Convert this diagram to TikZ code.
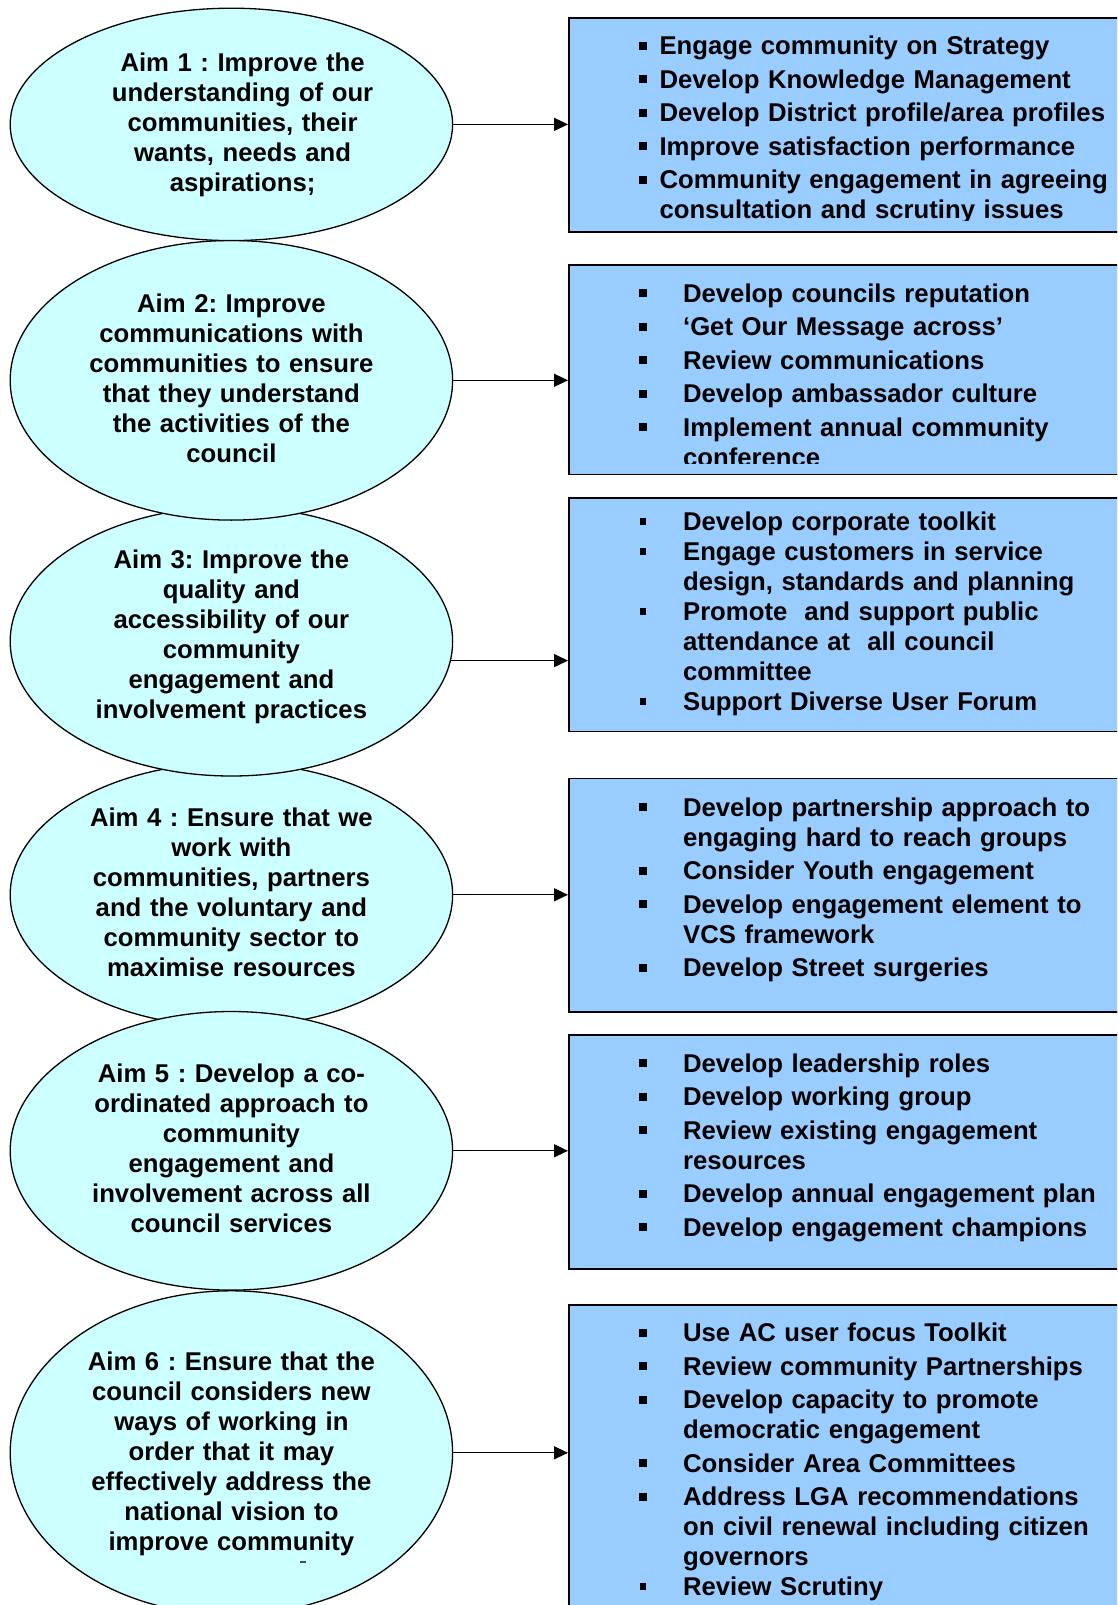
\documentclass[tikz,border=0pt]{standalone}
\usepackage{fontspec}
\setmainfont{Liberation Sans}
\usetikzlibrary{shapes.geometric,arrows.meta}
\definecolor{ellfill}{HTML}{CCFFFF}
\definecolor{boxfill}{HTML}{99CCFF}
\newcommand\bul[2]{\leavevmode\llap{\rule[\dimexpr 9pt-#1/2\relax]{#1}{#1}\hspace{#2}}}
\tikzset{
  ell/.style={ellipse, draw=black, fill=ellfill, line width=1.3pt, inner sep=0pt, minimum width=442.4pt},
  boxs/.style={rectangle, draw=black, fill=boxfill, line width=1.5pt, inner sep=0pt, anchor=north west, minimum width=570pt},
  txt/.style={font=\fontsize{25.7}{30}\selectfont\bfseries\frenchspacing, inner sep=0pt},
  etxt/.style={txt, anchor=base, text width=420pt, align=center},
  btxt/.style={txt, anchor=base west, text width=470pt, align=left},
  arr/.style={line width=1.3pt, -{Triangle[length=14pt,width=13pt]}}
}
\begin{document}
\begin{tikzpicture}[x=1pt,y=-1pt]
\useasboundingbox (0,0) rectangle (1117,1605);
\clip (0,0) rectangle (1117,1605);
\fill[white] (0,0) rectangle (1117,1605);

% boxes
\node[boxs, minimum height=214pt] (b1) at (568,17.4) {};
\node[boxs, minimum height=209.4pt] (b2) at (568,264.1) {};
\node[boxs, minimum height=233.5pt] (b3) at (568,497) {};
\node[boxs, minimum height=233.5pt] (b4) at (568,777.5) {};
\node[boxs, minimum height=234pt] (b5) at (568,1034) {};
\node[boxs, minimum height=330pt] (b6) at (568,1304) {};

% box texts
\begin{scope}
\clip (568,17.4) rectangle (1117,221);
\node[btxt] (l1) at (659.3,54.6) {\bul{8pt}{12.3pt}Engage community on Strategy\\[3.5pt]
\bul{8pt}{12.3pt}Develop Knowledge Management\\[3.5pt]
\bul{8pt}{12.3pt}Develop District profile/area profiles\\[3.5pt]
\bul{8pt}{12.3pt}Improve satisfaction performance\\[3.5pt]
\bul{8pt}{12.3pt}Community engagement in agreeing\\
consultation and scrutiny issues};
\end{scope}
\begin{scope}
\clip (568,264.1) rectangle (1117,463);
\node[btxt] (l2) at (682.9,302.3) {\bul{8pt}{36pt}Develop councils reputation\\[3.5pt]
\bul{8pt}{36pt}‘Get Our Message across’\\[3.5pt]
\bul{8pt}{36pt}Review communications\\[3.5pt]
\bul{8pt}{36pt}Develop ambassador culture\\[3.5pt]
\bul{8pt}{36pt}Implement annual community\\
conference};
\end{scope}
\begin{scope}
\clip (568,497) rectangle (1117,720);
\node[btxt] (l3) at (682.9,530.6) {\bul{6.5pt}{37pt}Develop corporate toolkit\\
\bul{6.5pt}{37pt}Engage customers in service\\
design, standards and planning\\
\bul{6.5pt}{37pt}Promote\ \ and support public\\
attendance at\ \ all council\\
committee\\
\bul{6.5pt}{37pt}Support Diverse User Forum};
\end{scope}
\node[btxt] (l4) at (682.9,816.3) {\bul{8pt}{36pt}Develop partnership approach to\\
engaging hard to reach groups\\[3.5pt]
\bul{8pt}{36pt}Consider Youth engagement\\[3.5pt]
\bul{8pt}{36pt}Develop engagement element to\\
VCS framework\\[3.5pt]
\bul{8pt}{36pt}Develop Street surgeries};
\node[btxt] (l5) at (682.9,1072.2) {\bul{8pt}{36pt}Develop leadership roles\\[3.5pt]
\bul{8pt}{36pt}Develop working group\\[3.5pt]
\bul{8pt}{36pt}Review existing engagement\\
resources\\[3.5pt]
\bul{8pt}{36pt}Develop annual engagement plan\\[3.5pt]
\bul{8pt}{36pt}Develop engagement champions};
\node[btxt] (l6) at (682.9,1341.5) {\bul{8pt}{36pt}Use AC user focus Toolkit\\[3.5pt]
\bul{8pt}{36pt}Review community Partnerships\\[3.5pt]
\bul{8pt}{36pt}Develop capacity to promote\\
democratic engagement\\[3.5pt]
\bul{8pt}{36pt}Consider Area Committees\\[3.5pt]
\bul{8pt}{36pt}Address LGA recommendations\\
on civil renewal including citizen\\
governors\\
\bul{6.5pt}{37pt}Review Scrutiny};

% ellipses
\node[ell, minimum height=264pt] (e4) at (231.4,894.8) {};
\node[ell, minimum height=269.2pt] (e3) at (231.4,641.4) {};
\node[ell, minimum height=279.6pt] (e2) at (231.4,380.3) {};
\node[ell, minimum height=232.4pt] (e1) at (231.4,124.4) {};
\node[ell, minimum height=278.6pt] (e5) at (231.4,1150.8) {};
\node[ell, minimum height=324pt] (e6) at (231.4,1452.8) {};

% arrows
\draw[arr] (e1.east) -- (e1.east -| b1.west);
\draw[arr] (e2.east) -- (e2.east -| b2.west);
\draw[arr] (e3.-5) -- (e3.-5 -| b3.west);
\draw[arr] (e4.east) -- (e4.east -| b4.west);
\draw[arr] (e5.east) -- (e5.east -| b5.west);
\draw[arr] (e6.east) -- (e6.east -| b6.west);

% ellipse texts
\node[etxt] (t1) at (242.6,72) {Aim 1 : Improve the\\understanding of our\\communities, their\\wants, needs and\\aspirations;};
\node[etxt] (t2) at (231.4,312.6) {Aim 2: Improve\\communications with\\communities to ensure\\that they understand\\the activities of the\\council};
\node[etxt] (t3) at (231.4,568.5) {Aim 3: Improve the\\quality and\\accessibility of our\\community\\engagement and\\involvement practices};
\node[etxt] (t4) at (231.4,826.5) {Aim 4 : Ensure that we\\work with\\communities, partners\\and the voluntary and\\community sector to\\maximise resources};
\node[etxt] (t5) at (231.4,1082.5) {Aim 5 : Develop a co-\\ordinated approach to\\community\\engagement and\\involvement across all\\council services};
\node[etxt] (t6) at (231.4,1370.2) {Aim 6 : Ensure that the\\council considers new\\ways of working in\\order that it may\\effectively address the\\national vision to\\improve community};
\draw[line width=1.2pt, black!70] (300,1562) -- (306,1562);
\end{tikzpicture}
\end{document}
